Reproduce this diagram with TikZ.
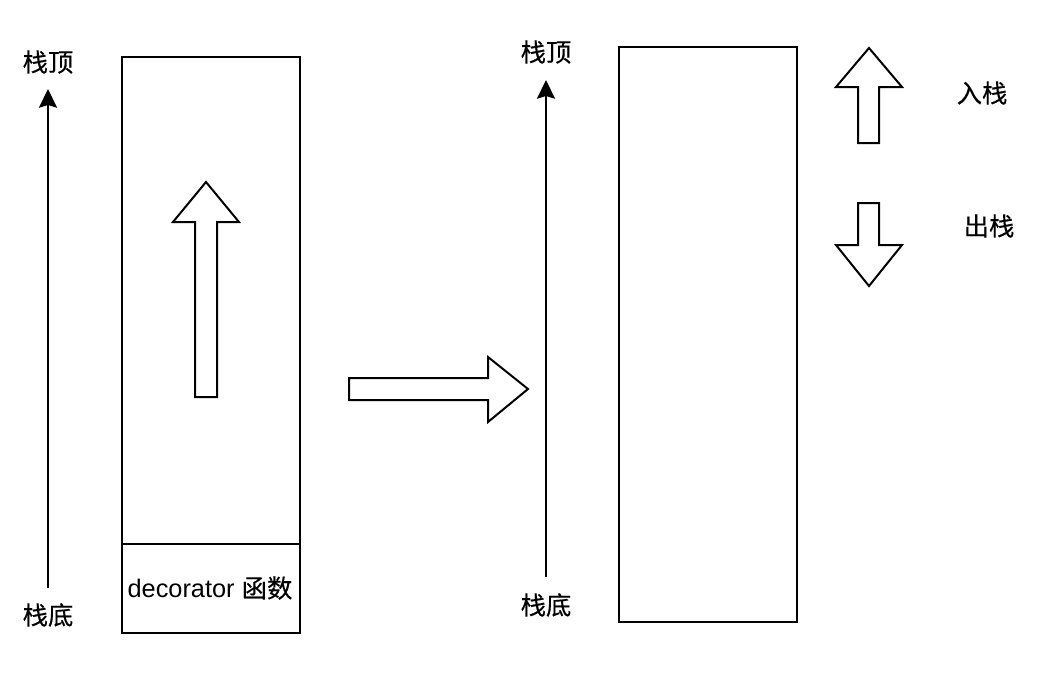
\documentclass[tikz,border=0pt]{standalone}
\usepackage{fontspec}
\setmainfont{Liberation Sans}
\newfontfamily\cjk[FakeBold=0.4]{Noto Sans CJK SC}
\usetikzlibrary{arrows.meta}
\begin{document}
\begin{tikzpicture}[x=0.75pt,y=-0.75pt,
  line width=1.5pt,
  lbl/.style={font=\fontsize{19}{23}\selectfont\cjk, inner sep=0pt},
  stackbox/.style={draw=black, line width=1.5pt},
  blockarrow/.style={draw=black, fill=white, line width=1.5pt, line join=miter},
  axis/.style={draw=black, line width=1.5pt, -{Stealth[length=14pt,width=13.5pt,inset=2pt]}}]
\useasboundingbox[fill=white] (0,0) rectangle (1054,672);

% left side
\node[lbl] (ltop) at (48,62) {栈顶};
\node[lbl] (lbot) at (48,615) {栈底};
\coordinate (lstart) at (48,588);
\coordinate (lend) at (48,89);
\draw[axis] (lstart) -- (lend);

\draw[stackbox] (122,57) rectangle (300,633);
\draw[stackbox] (122,544) -- (300,544);
\node[font=\fontsize{19}{23}\selectfont, inner sep=0pt] (deco) at (210,588) {decorator {\cjk 函数}};

% inner up arrow
\draw[blockarrow] (195,397) -- (195,222) -- (173,222) -- (206,182) -- (239,222) -- (217,222) -- (217,397) -- cycle;

% middle arrow
\draw[blockarrow] (349,378) -- (488,378) -- (488,357) -- (528,389) -- (488,422) -- (488,400) -- (349,400) -- cycle;

% right side
\node[lbl] (rtop) at (546,52) {栈顶};
\node[lbl] (rbot) at (546,605) {栈底};
\coordinate (rstart) at (546,577);
\coordinate (rend) at (546,80);
\draw[axis] (rstart) -- (rend);

\draw[stackbox] (619,47) rectangle (797,622);

% push arrow
\draw[blockarrow] (858,143) -- (858,87) -- (836,87) -- (869,48) -- (902,87) -- (879,87) -- (879,143) -- cycle;
\node[lbl] (push) at (982,93) {入栈};

% pop arrow
\draw[blockarrow] (858,203) -- (858,245) -- (836,245) -- (869,286) -- (902,245) -- (879,245) -- (879,203) -- cycle;
\node[lbl] (pop) at (989,226) {出栈};
\end{tikzpicture}
\end{document}
